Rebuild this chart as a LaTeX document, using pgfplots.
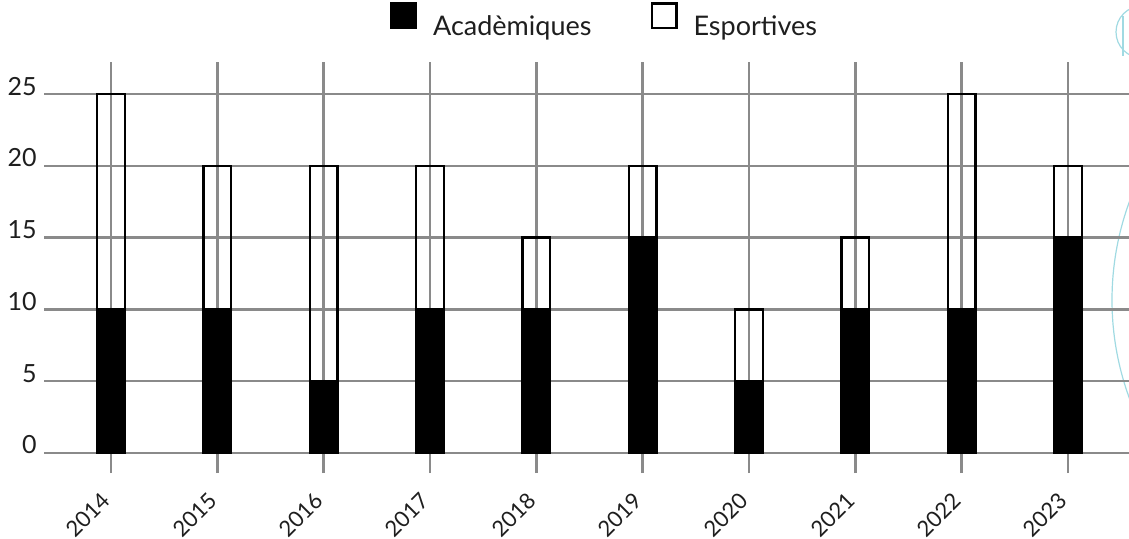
\documentclass[border=0pt]{standalone}
\usepackage{fontspec}
\setmainfont{Lato}
\usepackage{pgfplots}
\pgfplotsset{compat=1.18}
\definecolor{gridgray}{RGB}{138,138,138}
\definecolor{txt}{RGB}{30,30,30}
\definecolor{deco}{RGB}{160,218,226}

\begin{document}
\begin{tikzpicture}
  \useasboundingbox (0,0) rectangle (564.5pt,-269.5pt);
  % decorative arcs at the right edge
  \begin{scope}
    \clip (0,0) rectangle (564.5pt,-269.5pt);
    \draw[deco, line width=0.6pt] (698.5pt,-150pt) circle (142.5pt);
    \draw[deco, line width=0.6pt] (571pt,-16pt) circle (13pt);
    \draw[deco, line width=0.6pt] (561.5pt,-8pt) -- (561.5pt,-28pt);
  \end{scope}
  \begin{axis}[
      at={(22pt,-236.5pt)}, anchor=south west,
      width=542.5pt, height=205.5pt, scale only axis,
      ybar stacked, bar width=13.8pt,
      xmin=-0.63, xmax=9.574, ymin=-1.393, ymax=27.23,
      xtick={0,1,2,3,4,5,6,7,8,9},
      xticklabels={2014,2015,2016,2017,2018,2019,2020,2021,2022,2023},
      ytick={0,5,10,15,20,25},
      grid=major,
      grid style={line width=1.2pt, gridgray},
      axis line style={draw=none},
      major tick length=0pt,
      tick label style={font=\fontsize{12.5}{14}\selectfont, text=txt},
      /pgf/number format/assume math mode=true,
      xticklabel style={font=\fontsize{11}{13}\selectfont, rotate=45, anchor=north east, inner sep=0pt, xshift=-9.9pt, yshift=-2.5pt},
      yticklabel style={anchor=base east, inner sep=0pt, xshift=-3.5pt, yshift=-0.5pt},
      legend columns=-1,
      legend style={at={(0.5157,1)}, anchor=south, yshift=11.5pt,
          draw=none, fill=none, text=txt, inner sep=0pt,
          nodes={inner sep=0pt},
          font=\fontsize{13.5}{16}\selectfont,
          /tikz/every odd column/.append style={column sep=8pt},
          /tikz/every even column/.append style={column sep=29.5pt}},
    ]
    \addplot[fill=black, draw=black, line width=1.2pt,
        legend image code/.code={
          \draw[fill=black, draw=black, line width=1.2pt] (0.6pt,-0.4pt) rectangle (12.9pt,11.9pt);}]
      coordinates {
        (0,10) (1,10) (2,5) (3,10) (4,10) (5,15) (6,5) (7,10) (8,10) (9,15)};
    \addplot[fill=none, draw=black, line width=1.2pt,
        legend image code/.code={
          \draw[fill=none, draw=black, line width=1.2pt] (0.6pt,-0.4pt) rectangle (12.9pt,11.9pt);}]
      coordinates {
        (0,15) (1,10) (2,15) (3,10) (4,5) (5,5) (6,5) (7,5) (8,15) (9,5)};
    \legend{Acadèmiques, Esportives}
  \end{axis}
\end{tikzpicture}
\end{document}
